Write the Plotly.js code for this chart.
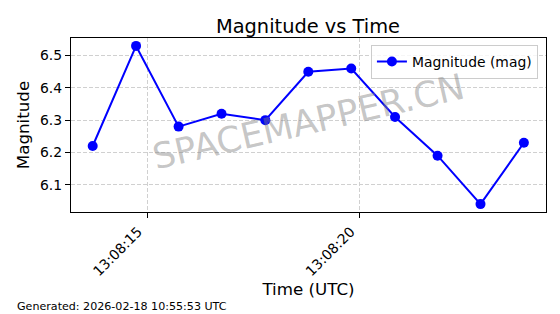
<!DOCTYPE html>
<html>
<head>
<meta charset="utf-8">
<script src="https://cdn.plot.ly/plotly-3.0.1.min.js"></script>
<style>html,body{margin:0;padding:0;background:#fff}#chart{width:560px;height:314px}</style>
</head>
<body>
<div id="chart"></div>
<script>
const times = [
  "2026-02-18 13:08:13.72", "2026-02-18 13:08:14.74", "2026-02-18 13:08:15.74",
  "2026-02-18 13:08:16.75", "2026-02-18 13:08:17.78", "2026-02-18 13:08:18.79",
  "2026-02-18 13:08:19.80", "2026-02-18 13:08:20.83", "2026-02-18 13:08:21.83",
  "2026-02-18 13:08:22.84", "2026-02-18 13:08:23.86"
];
const magnitudes = [6.22, 6.53, 6.28, 6.32, 6.30, 6.45, 6.46, 6.31, 6.19, 6.04, 6.23];
const yTicks = [6.1, 6.2, 6.3, 6.4, 6.5];
const seriesName = "Magnitude (mag)";
const titleText = "Magnitude vs Time";
const xLabel = "Time (UTC)";
const yLabel = "Magnitude";
const footerText = "Generated: 2026-02-18 10:55:53 UTC";
const watermarkText = "SPACEMAPPER.CN";

const font = "DejaVu Sans, sans-serif";
const trace = {
  x: times, y: magnitudes, type: "scatter", mode: "lines+markers", name: seriesName,
  line: {color: "#0000ff", width: 2},
  marker: {color: "#0000ff", size: 10}
};
const layout = {
  width: 560, height: 314,
  margin: {l: 71, r: 14, t: 38, b: 102},
  paper_bgcolor: "#ffffff", plot_bgcolor: "#ffffff",
  font: {family: font, color: "#000", size: 13.9},
  showlegend: true,
  title: {text: titleText, font: {family: font, size: 19.4, color: "#000"}, x: 0.55, xanchor: "center", y: 0.918, yanchor: "middle"},
  xaxis: {
    type: "date",
    range: ["2026-02-18 13:08:13.21", "2026-02-18 13:08:24.38"],
    tick0: "2026-02-18 13:08:15", dtick: 5000, tickformat: "%H:%M:%S",
    tickangle: -45, ticks: "outside", ticklen: 5, tickwidth: 1, tickcolor: "#000",
    ticklabelshift: -9,
    showgrid: true, gridcolor: "#d0d0d0", griddash: "4px,2px", gridwidth: 1,
    showline: true, linecolor: "#000", linewidth: 1.2, mirror: true, zeroline: false,
    tickfont: {family: font, size: 13.9, color: "#000"},
    title: {text: xLabel, font: {family: font, size: 16.7, color: "#000"}, standoff: 4}
  },
  yaxis: {
    range: [6.0155, 6.5545], tickvals: yTicks, ticktext: yTicks.map(v => v.toFixed(1)),
    ticks: "outside", ticklen: 5, tickwidth: 1, tickcolor: "#000",
    showgrid: true, gridcolor: "#d0d0d0", griddash: "4px,2px", gridwidth: 1,
    showline: true, linecolor: "#000", linewidth: 1.2, mirror: true, zeroline: false,
    tickfont: {family: font, size: 13.9, color: "#000"},
    title: {text: yLabel, font: {family: font, size: 16.7, color: "#000"}, standoff: 6}
  },
  legend: {
    x: 0.983, y: 0.96, xanchor: "right", yanchor: "top",
    bgcolor: "rgba(255,255,255,0.8)", bordercolor: "#cccccc", borderwidth: 1,
    font: {family: font, size: 13.9, color: "#000"}
  },
  annotations: [
    {text: watermarkText, xref: "paper", yref: "paper", x: 0.5, y: 0.52,
     xanchor: "center", yanchor: "middle", showarrow: false, textangle: -13,
     font: {family: font, size: 35.5, color: "rgba(128,128,128,0.45)"}},
    {text: footerText, xref: "paper", yref: "paper", x: -0.117, y: -0.545,
     xanchor: "left", yanchor: "middle", showarrow: false,
     font: {family: font, size: 11.1, color: "#000"}}
  ]
};
Plotly.newPlot("chart", [trace], layout, {displayModeBar: false, staticPlot: true});
</script>
</body>
</html>
